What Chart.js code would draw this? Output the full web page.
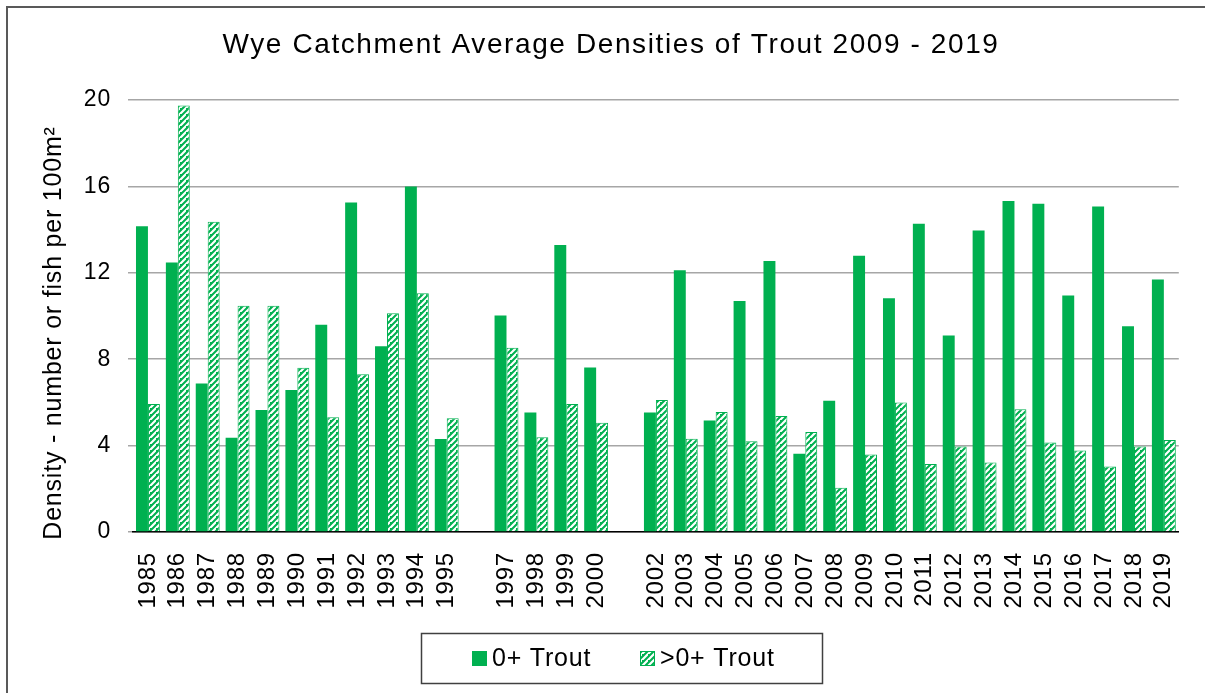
<!DOCTYPE html>
<html>
<head>
<meta charset="utf-8">
<script src="https://cdn.jsdelivr.net/npm/chart.js@4.4.0/dist/chart.umd.min.js"></script>
<style>
    html, body { margin: 0; padding: 0; background: #fff; }
    #wrap { position: relative; width: 1205px; height: 693px; overflow: hidden; }
    #frame { position: absolute; left: 6px; top: 6px; width: 1300px; height: 800px;
             border-left: 2px solid #595959; border-top: 2px solid #595959; }
    #chart { position: absolute; left: 0; top: 0; }
</style>
</head>
<body>
<div id="wrap">
    <div id="frame"></div>
    <canvas id="chart" width="1205" height="693"></canvas>
</div>
<script>
// Survey years (blank = no survey that year)
const years = ['1985', '1986', '1987', '1988', '1989', '1990', '1991', '1992', '1993', '1994', '1995', '',
    '1997', '1998', '1999', '2000', '',
    '2002', '2003', '2004', '2005', '2006', '2007', '2008', '2009', '2010',
    '2011', '2012', '2013', '2014', '2015', '2016', '2017', '2018', '2019'];

// 0+ trout density (fish per 100m2)
const fryTrout = [14.15, 12.48, 6.88, 4.36, 5.65, 6.57, 9.59, 15.26, 8.6, 16.0, 4.3, null,
    10.02, 5.53, 13.29, 7.62, null,
    5.53, 12.12, 5.16, 10.7, 12.55, 3.62, 6.08, 12.79, 10.82,
    14.27, 9.1, 13.96, 15.32, 15.2, 10.95, 15.07, 9.53, 11.69];

// >0+ trout density (fish per 100m2)
const parrTrout = [5.93, 19.74, 14.36, 10.47, 10.47, 7.6, 5.31, 7.3, 10.13, 11.05, 5.27, null,
    8.53, 4.39, 5.93, 5.06, null,
    6.11, 4.32, 5.56, 4.2, 5.37, 4.63, 2.05, 3.59, 5.99,
    3.15, 3.96, 3.22, 5.68, 4.14, 3.77, 3.03, 3.96, 4.26];

const yTicks = [0, 4, 8, 12, 16, 20];

const chartTitle = 'Wye Catchment Average Densities of Trout 2009 - 2019';
const yTitle = 'Density - number or fish per 100m²';
const FONT = "'Liberation Sans', Arial, sans-serif";
const GREEN = '#00B050';

// Upward diagonal hatch like the Excel pattern fill
function makeHatch() {
    const size = 6;
    const c = document.createElement('canvas');
    c.width = size;
    c.height = size;
    const g = c.getContext('2d');
    g.fillStyle = GREEN;
    g.fillRect(0, 0, size, size);
    g.strokeStyle = '#ffffff';
    g.lineWidth = 2.2;
    g.beginPath();
    g.moveTo(-size, size * 2); g.lineTo(size * 2, -size);
    g.moveTo(-size * 2, size); g.lineTo(size, -size * 2);
    g.moveTo(0, size * 2); g.lineTo(size * 2, 0);
    g.stroke();
    return g.createPattern(c, 'repeat');
}
const hatch = makeHatch();

// The original's text is set a little loose
const spacing = {
    id: 'spacing',
    beforeUpdate(chart) { chart.ctx.letterSpacing = '0.8px'; },
    beforeDraw(chart) { chart.ctx.letterSpacing = '0.8px'; }
};

// Titles and legend drawn by hand so they sit where the original has them
const extras = {
    id: 'extras',
    afterDraw(chart) {
        const ctx = chart.ctx;
        ctx.save();
        ctx.fillStyle = '#000';
        ctx.textBaseline = 'middle';

        // chart title
        ctx.textAlign = 'center';
        ctx.letterSpacing = '1.6px';
        ctx.font = '28px ' + FONT;
        ctx.fillText(chartTitle, 611, 45);

        // y axis title
        ctx.letterSpacing = '0.8px';
        ctx.font = '25px ' + FONT;
        ctx.save();
        ctx.translate(54, 333);
        ctx.rotate(-Math.PI / 2);
        ctx.fillText(yTitle, 0, 0);
        ctx.restore();

        // legend
        ctx.strokeStyle = '#404040';
        ctx.lineWidth = 1.5;
        ctx.strokeRect(421.5, 633.5, 401, 50);
        ctx.textAlign = 'left';
        const sets = chart.data.datasets;
        const squareX = [472, 640];
        sets.forEach((ds, i) => {
            const x = squareX[i];
            ctx.fillStyle = ds.backgroundColor;
            ctx.fillRect(x, 651, 15, 15);
            if (ds.borderWidth) {
                ctx.strokeStyle = ds.borderColor;
                ctx.lineWidth = 1;
                ctx.strokeRect(x + 0.5, 651.5, 14, 14);
            }
            ctx.fillStyle = '#000';
            ctx.fillText(ds.label, x + 20, 659);
        });
        ctx.restore();
    }
};

const ctx = document.getElementById('chart').getContext('2d');
new Chart(ctx, {
    type: 'bar',
    data: {
        labels: years,
        datasets: [
            {
                label: '0+ Trout',
                data: fryTrout,
                backgroundColor: GREEN,
                borderColor: GREEN,
                borderWidth: 0,
                categoryPercentage: 0.8,
                barPercentage: 1.0
            },
            {
                label: '>0+ Trout',
                data: parrTrout,
                backgroundColor: hatch,
                borderColor: GREEN,
                borderWidth: 1,
                categoryPercentage: 0.8,
                barPercentage: 1.0
            }
        ]
    },
    options: {
        responsive: false,
        animation: false,
        layout: { padding: { top: 100, left: 10, right: 24, bottom: 57 } },
        plugins: {
            title: { display: false },
            tooltip: { enabled: false },
            legend: { display: false }
        },
        scales: {
            x: {
                grid: { display: false },
                border: { display: true, color: '#000', width: 1.5 },
                ticks: {
                    color: '#000',
                    font: { family: FONT, size: 24 },
                    minRotation: 90,
                    maxRotation: 90,
                    autoSkip: false,
                    padding: 12
                },
                afterFit(scale) { scale.height = 104; }
            },
            y: {
                min: 0,
                max: 20,
                afterBuildTicks(scale) { scale.ticks = yTicks.map(v => ({ value: v })); },
                grid: { color: '#A6A6A6', lineWidth: 1.5, tickLength: 5, tickColor: '#A6A6A6' },
                border: { display: false },
                ticks: {
                    color: '#000',
                    font: { family: FONT, size: 23 },
                    padding: 17
                },
                afterFit(scale) { scale.width = 123; }
            }
        }
    },
    plugins: [spacing, extras]
});
</script>
</body>
</html>
